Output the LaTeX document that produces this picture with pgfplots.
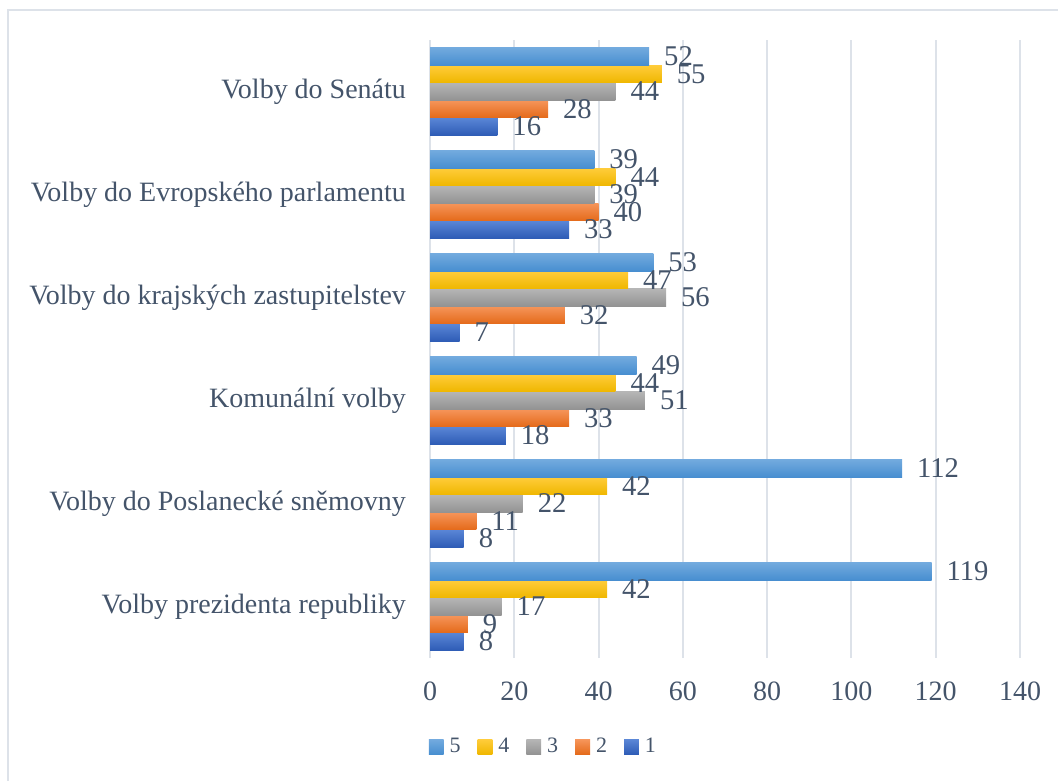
\documentclass[border=0pt]{standalone}
\usepackage{pgfplots}
\pgfplotsset{compat=1.18}
\usepackage{fontspec}
\setmainfont{Liberation Serif}
\definecolor{txt}{HTML}{44546A}
\definecolor{gridc}{HTML}{DDE2E9}
\definecolor{sAt}{HTML}{5A86D6}\definecolor{sAb}{HTML}{2E5CB6}
\definecolor{sBt}{HTML}{F6955A}\definecolor{sBb}{HTML}{E46A1A}
\definecolor{sCt}{HTML}{B5B5B5}\definecolor{sCb}{HTML}{939393}
\definecolor{sDt}{HTML}{FFCC3A}\definecolor{sDb}{HTML}{EFB700}
\definecolor{sEt}{HTML}{72AADE}\definecolor{sEb}{HTML}{478ED0}
\pgfplotsset{
  s1/.style={draw=none, top color=sAt, bottom color=sAb, bar shift=-17.5pt},
  s2/.style={draw=none, top color=sBt, bottom color=sBb, bar shift=-8.75pt},
  s3/.style={draw=none, top color=sCt, bottom color=sCb, bar shift=0pt},
  s4/.style={draw=none, top color=sDt, bottom color=sDb, bar shift=8.75pt},
  s5/.style={draw=none, top color=sEt, bottom color=sEb, bar shift=17.5pt},
}
\begin{document}
\begin{tikzpicture}
\useasboundingbox (0,0) rectangle (529pt,390.5pt);
\draw[color=gridc, line width=1pt] (4pt,0pt) -- (4pt,385.5pt) -- (529pt,385.5pt);
\begin{axis}[
  at={(215pt,61.5pt)}, anchor=south west,
  scale only axis, width=295pt, height=309pt,
  xbar, bar width=8.75pt,
  xmin=0, xmax=140, ymin=-0.5, ymax=5.5,
  xtick={0,20,...,140},
  ytick={0,1,2,3,4,5},
  yticklabels={Volby prezidenta republiky, Volby do Poslanecké sněmovny, Komunální volby, Volby do krajských zastupitelstev, Volby do Evropského parlamentu, Volby do Senátu},
  xmajorgrids, grid style={gridc, line width=1pt},
  axis line style={draw=none},
  major tick length=0pt,
  /pgf/number format/assume math mode=true,
  tick label style={font=\fontsize{14}{16}\selectfont, text=txt},
  yticklabel style={xshift=-8.5pt},
  xticklabel style={yshift=-8.5pt},
  clip=false,
  nodes near coords,
  every node near coord/.append style={font=\fontsize{14.3}{16}\selectfont, text=txt, anchor=west, xshift=4pt},
  legend columns=5,
  reverse legend,
  legend style={draw=none, fill=none, inner sep=0pt, outer sep=0pt,
    nodes={inner sep=0pt, outer sep=0pt},
    at={(axis description cs:-0.002,-0.144)}, anchor=west,
    font=\fontsize{11}{13}\selectfont, text=txt,
    /tikz/every odd column/.append style={column sep=3pt},
    /tikz/every even column/.append style={column sep=8.5pt}},
  legend image code/.code={\path[#1, draw=none] (0pt,-3.7pt) rectangle (7.4pt,3.7pt);},
]
% category 0: Volby prezidenta republiky (carries legend entries)
\addplot[s1] coordinates {(8,0)};   \addlegendentry{1}
\addplot[s2] coordinates {(9,0)};   \addlegendentry{2}
\addplot[s3] coordinates {(17,0)};  \addlegendentry{3}
\addplot[s4] coordinates {(42,0)};  \addlegendentry{4}
\addplot[s5] coordinates {(119,0)}; \addlegendentry{5}
% category 1: Volby do Poslanecke snemovny
\addplot[s1, forget plot] coordinates {(8,1)};
\addplot[s2, forget plot] coordinates {(11,1)};
\addplot[s3, forget plot] coordinates {(22,1)};
\addplot[s4, forget plot] coordinates {(42,1)};
\addplot[s5, forget plot] coordinates {(112,1)};
% category 2: Komunalni volby
\addplot[s1, forget plot] coordinates {(18,2)};
\addplot[s2, forget plot] coordinates {(33,2)};
\addplot[s3, forget plot] coordinates {(51,2)};
\addplot[s4, forget plot] coordinates {(44,2)};
\addplot[s5, forget plot] coordinates {(49,2)};
% category 3: Volby do krajskych zastupitelstev
\addplot[s1, forget plot] coordinates {(7,3)};
\addplot[s2, forget plot] coordinates {(32,3)};
\addplot[s3, forget plot] coordinates {(56,3)};
\addplot[s4, forget plot] coordinates {(47,3)};
\addplot[s5, forget plot] coordinates {(53,3)};
% category 4: Volby do Evropskeho parlamentu
\addplot[s1, forget plot] coordinates {(33,4)};
\addplot[s2, forget plot] coordinates {(40,4)};
\addplot[s3, forget plot] coordinates {(39,4)};
\addplot[s4, forget plot] coordinates {(44,4)};
\addplot[s5, forget plot] coordinates {(39,4)};
% category 5: Volby do Senatu
\addplot[s1, forget plot] coordinates {(16,5)};
\addplot[s2, forget plot] coordinates {(28,5)};
\addplot[s3, forget plot] coordinates {(44,5)};
\addplot[s4, forget plot] coordinates {(55,5)};
\addplot[s5, forget plot] coordinates {(52,5)};
\end{axis}
\end{tikzpicture}
\end{document}
